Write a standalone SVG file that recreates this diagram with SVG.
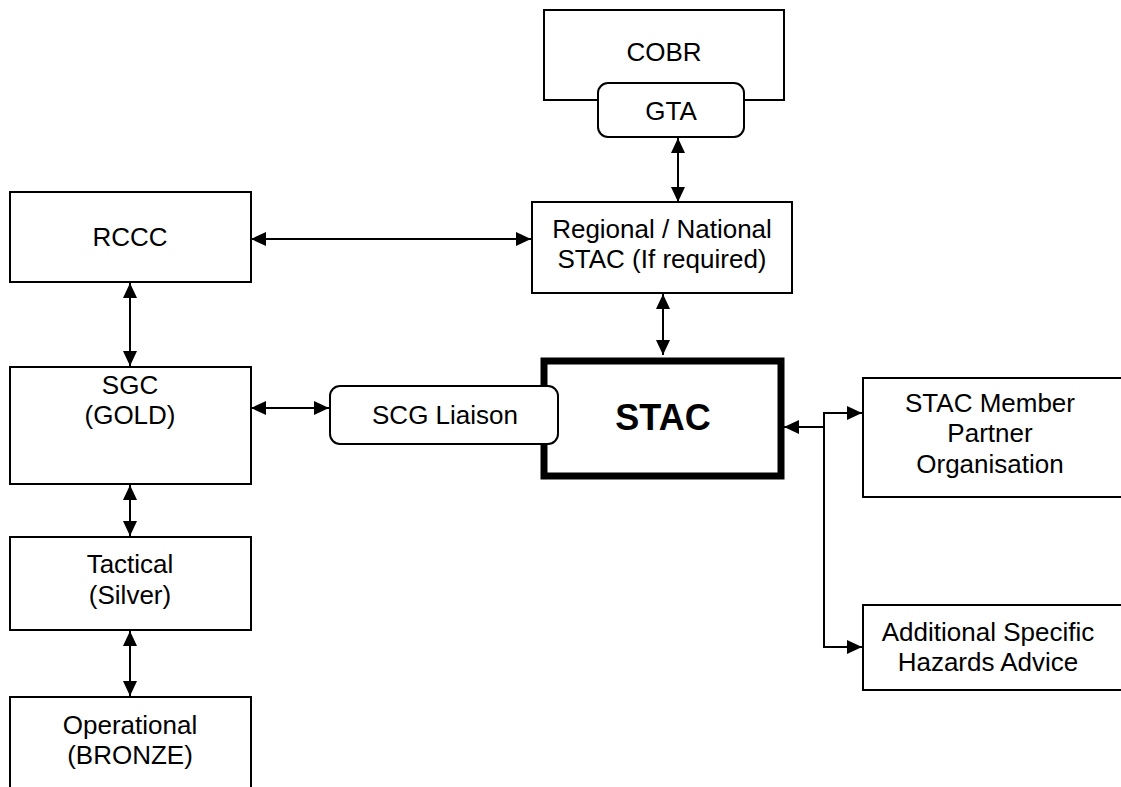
<svg xmlns="http://www.w3.org/2000/svg" width="1121" height="787" viewBox="0 0 1121 787">
<style>
.box{fill:#fff;stroke:#000;stroke-width:2}
.t{font-family:"Liberation Sans",Arial,sans-serif;font-size:26px;fill:#000;text-anchor:middle}
.b{font-family:"Liberation Sans",Arial,sans-serif;font-size:36px;font-weight:bold;fill:#000;text-anchor:middle}
.c{fill:none;stroke:#000;stroke-width:2}
</style>
<defs>
<marker id="a" viewBox="0 0 15 14" refX="15" refY="7" markerWidth="15" markerHeight="14" markerUnits="userSpaceOnUse" orient="auto-start-reverse">
<path d="M0,0L15,7L0,14z" fill="#000"/>
</marker>
</defs>
<g id="connectors">
<line class="c" x1="678" y1="138" x2="678" y2="202" marker-start="url(#a)" marker-end="url(#a)"/>
<line class="c" x1="251" y1="239" x2="531" y2="239" marker-start="url(#a)" marker-end="url(#a)"/>
<line class="c" x1="130" y1="283" x2="130" y2="366" marker-start="url(#a)" marker-end="url(#a)"/>
<line class="c" x1="251" y1="408" x2="329" y2="408" marker-start="url(#a)" marker-end="url(#a)"/>
<line class="c" x1="663" y1="294" x2="663" y2="355" marker-start="url(#a)" marker-end="url(#a)"/>
<line class="c" x1="130" y1="485" x2="130" y2="536" marker-start="url(#a)" marker-end="url(#a)"/>
<line class="c" x1="130" y1="631" x2="130" y2="696" marker-start="url(#a)" marker-end="url(#a)"/>
<line class="c" x1="824" y1="427" x2="784" y2="427" marker-end="url(#a)"/>
<polyline class="c" points="824,427 824,413 862,413" marker-end="url(#a)"/>
<polyline class="c" points="824,427 824,647 862,647" marker-end="url(#a)"/>
</g>
<g id="cobr">
<rect class="box" x="544" y="10" width="240" height="90"/>
<text class="t" x="664" y="61">COBR</text>
</g>
<g id="gta">
<rect class="box" x="598" y="83" width="146" height="54" rx="10"/>
<text class="t" x="671" y="120">GTA</text>
</g>
<g id="regional">
<rect class="box" x="532" y="202" width="260" height="91"/>
<text class="t" x="662" y="238">Regional / National</text>
<text class="t" x="662" y="268">STAC (If required)</text>
</g>
<g id="rccc">
<rect class="box" x="10" y="192" width="241" height="90"/>
<text class="t" x="130" y="246">RCCC</text>
</g>
<g id="sgc">
<rect class="box" x="10" y="367" width="241" height="117"/>
<text class="t" x="130" y="394">SGC</text>
<text class="t" x="130" y="424">(GOLD)</text>
</g>
<g id="stac">
<rect x="544" y="361" width="237" height="115" fill="#fff" stroke="#000" stroke-width="7"/>
<text class="b" x="663" y="430">STAC</text>
</g>
<g id="liaison">
<rect class="box" x="330" y="386" width="228" height="58" rx="10"/>
<text class="t" x="445" y="424">SCG Liaison</text>
</g>
<g id="member">
<rect class="box" x="863" y="378" width="270" height="119"/>
<text class="t" x="990" y="412">STAC Member</text>
<text class="t" x="990" y="442">Partner</text>
<text class="t" x="990" y="473">Organisation</text>
</g>
<g id="additional">
<rect class="box" x="863" y="605" width="270" height="85"/>
<text class="t" x="988" y="641">Additional Specific</text>
<text class="t" x="988" y="671">Hazards Advice</text>
</g>
<g id="tactical">
<rect class="box" x="10" y="537" width="241" height="93"/>
<text class="t" x="130" y="573">Tactical</text>
<text class="t" x="130" y="604">(Silver)</text>
</g>
<g id="operational">
<rect class="box" x="10" y="697" width="241" height="100"/>
<text class="t" x="130" y="734">Operational</text>
<text class="t" x="130" y="764">(BRONZE)</text>
</g>
</svg>
